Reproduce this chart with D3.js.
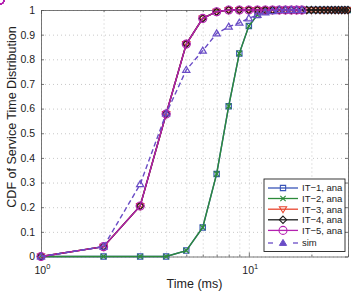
<!DOCTYPE html>
<html lang="en">
    <head>
        <meta charset="utf-8">
        <title>CDF of service time</title>
        <script type="text/javascript" src="https://d3js.org/d3.v7.min.js"></script>
        <style type="text/css">
            body{ margin: 0; background: #fff; }
            text{ font-family: "Liberation Sans", Arial, sans-serif; fill: #222; }
            .grid line{ stroke: #b0b0b0; stroke-width: .7px; stroke-dasharray: 1,3; }
            .grid .domain{ display: none; }
        </style>
    </head>
    <body>
        <svg id="chart" width="351" height="291"></svg>
        <script type="text/javascript">
        //data
        const times = [1,2,3,4,5,6,7,8,9,10,11,12,13,14,15,16,17,18,19,20,21,22,23,24,25,26,27,28,29,30];
        const it1 = [0,0,0,0,0.024,0.118,0.335,0.61,0.824,0.935,0.98,0.995,1,1,1,1,1,1,1,1,1,1,1,1,1,1,1,1,1,1];
        const it2 = [0,0,0,0,0.024,0.118,0.335,0.61,0.824,0.935,0.98,0.995,1,1,1,1,1,1,1,1,1,1,1,1,1,1,1,1,1,1];
        const it3 = [0,0.04,0.205,0.578,0.862,0.966,0.993,1,1,1,1,1,1,1,1,1,1,1,1,1,1,1,1,1,1,1,1,1,1,1];
        const it4 = [0,0.04,0.205,0.578,0.862,0.966,0.993,1,1,1,1,1,1,1,1,1,1,1,1,1,1,1,1,1,1,1,1,1,1,1];
        const it5 = [0,0.04,0.205,0.578,0.862,0.966,0.993,1,1,1,1,1,1,1,1,1,1,1];
        const simT = [1,2,3,4,5,6,7,8,9,10,11,12,13,14,15,16,17,18];
        const sim = [0,0.04,0.293,0.58,0.757,0.835,0.905,0.932,0.948,0.966,0.98,0.99,0.995,1,1,1,1,1];
        const yTicks = [0,0.1,0.2,0.3,0.4,0.5,0.6,0.7,0.8,0.9,1];
        const xMajor = [1,10];
        const xMinor = [2,3,4,5,6,7,8,9,20,30];
        const names = ["IT\u22121, ana","IT\u22122, ana","IT\u22123, ana","IT\u22124, ana","IT\u22125, ana","sim"];

        const svg = d3.select("#chart");
        const L = 41, R = 348, T = 10, B = 256.5;
        const x = d3.scaleLog().domain([1,30]).range([L,R]);
        const y = d3.scaleLinear().domain([0,1]).range([B,T]);

        //grid
        svg.append("g").attr("class","grid")
            .attr("transform",`translate(0,${B})`)
            .call(d3.axisBottom(x).tickValues(xMajor.concat(xMinor)).tickSize(-(B-T)).tickFormat(""));
        svg.append("g").attr("class","grid")
            .attr("transform",`translate(${L},0)`)
            .call(d3.axisLeft(y).tickValues(yTicks).tickSize(-(R-L)).tickFormat(""));

        //box + ticks
        const axStyle = g => { g.selectAll(".domain").attr("stroke","#555").attr("stroke-width",0.8);
                               g.selectAll(".tick line").attr("stroke","#555").attr("stroke-width",0.8); };
        svg.append("g").attr("transform",`translate(${L},0)`)
            .call(d3.axisLeft(y).tickValues(yTicks).tickSize(-3).tickPadding(6).tickFormat(d3.format("~g")).tickSizeOuter(0))
            .call(axStyle)
            .call(g => g.selectAll("text").attr("font-size",10.5).attr("fill","#222").attr("font-family","Liberation Sans, Arial"));
        svg.append("g").attr("transform",`translate(${R},0)`)
            .call(d3.axisRight(y).tickValues(yTicks).tickSize(-3).tickFormat("").tickSizeOuter(0))
            .call(axStyle);
        svg.append("g").attr("transform",`translate(0,${B})`)
            .call(d3.axisBottom(x).tickValues(xMajor).tickSize(-4).tickFormat("").tickSizeOuter(0))
            .call(axStyle);
        svg.append("g").attr("transform",`translate(0,${B})`)
            .call(d3.axisBottom(x).tickValues(xMinor).tickSize(-2).tickFormat("").tickSizeOuter(0))
            .call(g => g.select(".domain").remove()).call(axStyle);
        svg.append("g").attr("transform",`translate(0,${T})`)
            .call(d3.axisTop(x).tickValues(xMajor).tickSize(-4).tickFormat("").tickSizeOuter(0))
            .call(axStyle);
        svg.append("g").attr("transform",`translate(0,${T})`)
            .call(d3.axisTop(x).tickValues(xMinor).tickSize(-2).tickFormat("").tickSizeOuter(0))
            .call(g => g.select(".domain").remove()).call(axStyle);

        //x tick labels 10^k
        xMajor.forEach((v,i) => {
            const t = svg.append("text").attr("x", x(v) - 6.5).attr("y", 273.5).attr("font-size",10.5);
            t.append("tspan").text("10");
            t.append("tspan").attr("dy",-5).attr("font-size",7.5).text(String(i));
        });

        //labels
        svg.append("text").attr("x",(L+R)/2).attr("y",287.5).attr("text-anchor","middle")
            .attr("font-size",12.5).text("Time (ms)");
        svg.append("text").attr("transform","translate(15.5,117) rotate(-90)").attr("text-anchor","middle")
            .attr("font-size",12.5).text("CDF of Service Time Distribution");

        //series
        const series = [
            {t: times, v: it1, color: "#3a55b8", sym: "square", dash: null},
            {t: times, v: it2, color: "#2c8a3a", sym: "cross", dash: null},
            {t: times, v: it3, color: "#e8462f", sym: "tridown", dash: null},
            {t: times, v: it4, color: "#1a1a1a", sym: "diamond", dash: null},
            {t: times, v: it5, color: "#b421b0", sym: "circle", dash: null},
            {t: simT, v: sim, color: "#6a4cc6", sym: "triup", dash: "5,3"}
        ];
        const symPath = {
            square: d3.symbol(d3.symbolSquare, 28)(),
            cross: d3.symbol(d3.symbolTimes, 20)(),
            tridown: "M-3.6,-2.4L3.6,-2.4L0,3.6Z",
            diamond: d3.symbol(d3.symbolDiamond2, 34)(),
            circle: d3.symbol(d3.symbolCircle, 50)(),
            triup: "M0,-3.6L3.6,2.4L-3.6,2.4Z"
        };
        const line = d3.line().x(d => x(d[0])).y(d => y(d[1]));
        series.forEach(s => {
            const pts = s.t.map((t,i) => [t, s.v[i]]);
            svg.append("path").datum(pts).attr("d", line)
                .attr("fill","none").attr("stroke", s.color).attr("stroke-width",1.4)
                .attr("stroke-dasharray", s.dash);
            svg.append("g").selectAll("path").data(pts).join("path")
                .attr("transform", d => `translate(${x(d[0])},${y(d[1])})`)
                .attr("d", symPath[s.sym])
                .attr("fill","none").attr("stroke", s.color).attr("stroke-width",1.2);
        });

        //legend
        const lg = svg.append("g");
        lg.append("rect").attr("x",264).attr("y",179).attr("width",81).attr("height",72.5)
            .attr("fill","#fff").attr("stroke","#222").attr("stroke-width",0.9);
        svg.append("clipPath").attr("id","lgclip").append("rect")
            .attr("x",264).attr("y",179).attr("width",80.5).attr("height",72.5);
        const rowY = [188, 198.5, 209.2, 219.8, 230.4, 243];
        series.forEach((s,i) => {
            const ry = rowY[i];
            if (s.dash) {
                lg.append("line").attr("x1",268).attr("x2",273).attr("y1",ry).attr("y2",ry).attr("stroke",s.color).attr("stroke-width",1.3);
                lg.append("line").attr("x1",293).attr("x2",298).attr("y1",ry).attr("y2",ry).attr("stroke",s.color).attr("stroke-width",1.3);
                lg.append("path").attr("transform",`translate(283,${ry})`).attr("d",symPath[s.sym]).attr("fill",s.color).attr("stroke",s.color);
            } else {
                lg.append("line").attr("x1",268).attr("x2",298).attr("y1",ry).attr("y2",ry).attr("stroke",s.color).attr("stroke-width",1.3);
                lg.append("path").attr("transform",`translate(283,${ry})`).attr("d",symPath[s.sym]).attr("fill","none").attr("stroke",s.color).attr("stroke-width",1.1);
            }
            lg.append("text").attr("x",302).attr("y",ry+3.3).attr("font-size",9.5)
                .attr("clip-path","url(#lgclip)").text(names[i]);
        });
        </script>
    </body>
</html>
